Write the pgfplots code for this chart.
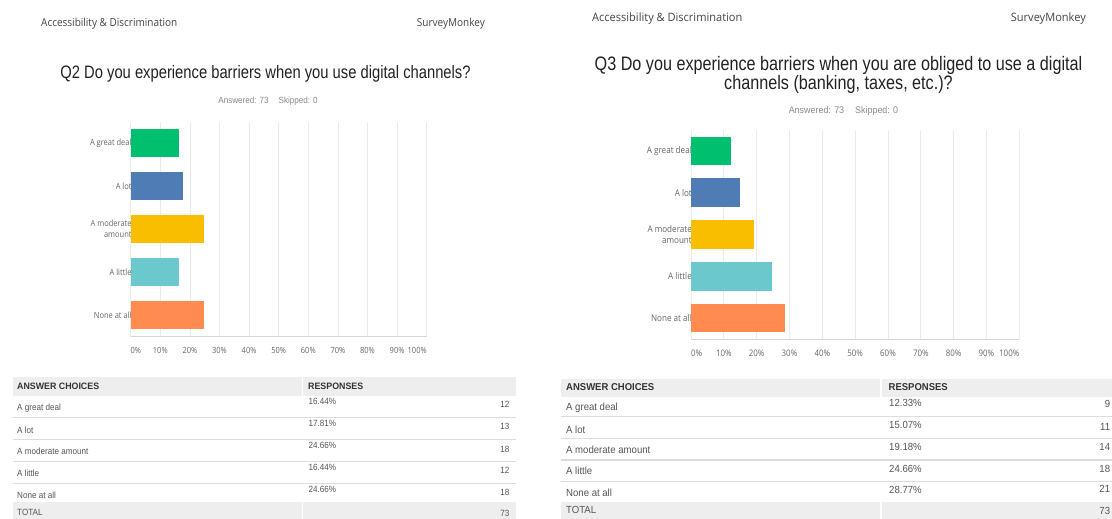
\documentclass[border=0pt]{standalone}
\usepackage{pgfplots}
\pgfplotsset{compat=1.18}
\usepackage{fontspec}
\setmainfont{Liberation Sans}
\newfontfamily\hdrfont[FakeStretch=0.91]{Open Sans}
\newfontfamily\hdrfontR[FakeStretch=0.96]{Open Sans}
\newfontfamily\ttlfont[FakeStretch=0.82]{Liberation Sans}
\newfontfamily\ttlfontR[FakeStretch=0.83]{Liberation Sans}
\newfontfamily\labfont[FakeStretch=0.88]{Open Sans}
\newfontfamily\tabfont[FakeStretch=0.9]{Liberation Sans}
\newfontfamily\tabfontR[FakeStretch=0.93]{Liberation Sans}
\newfontfamily\tabhfont[FakeStretch=0.95]{Liberation Sans}
\definecolor{smgreen}{HTML}{00BF6F}
\definecolor{smblue}{HTML}{507CB6}
\definecolor{smyellow}{HTML}{F9BE00}
\definecolor{smteal}{HTML}{6BC8CD}
\definecolor{smorange}{HTML}{FF8B4F}
\definecolor{gridc}{HTML}{EBEBEB}
\definecolor{axisc}{HTML}{D6D6D6}
\definecolor{tickc}{HTML}{666666}
\definecolor{hdrc}{HTML}{444444}
\definecolor{ttlc}{HTML}{222222}
\definecolor{ansc}{HTML}{8A8A8A}
\definecolor{hdrbg}{HTML}{EEEEEE}
\definecolor{sepc}{HTML}{DCDCDC}
\definecolor{tabc}{HTML}{555555}
\definecolor{tabh}{HTML}{333333}
\pgfplotsset{smchart/.style={
  scale only axis, xbar, xmin=0, xmax=100, ymin=-0.5, ymax=4.5,
  xtick={0,10,...,100}, ytick={0,1,2,3,4},
  xticklabel={\ifnum\ticknum=0 \rlap{\pgfmathprintnumber{\tick}\%}\else\ifnum\ticknum=10 \llap{\pgfmathprintnumber{\tick}\%}\else\pgfmathprintnumber{\tick}\%\fi\fi},
  yticklabels={None at all, A little, {A moderate\\amount}, A lot, A great deal},
  /pgf/number format/assume math mode=true,
  xmajorgrids, grid style={draw=gridc, line width=0.8pt},
  axis x line*=bottom, axis y line*=left,
  x axis line style={draw=axisc, line width=1pt, -},
  y axis line style={draw=none},
  major tick length=0pt, tick style={draw=none},
  xticklabel style={text=tickc, yshift=-7pt},
  yticklabel style={text=tickc, align=right, inner sep=0pt, xshift=1pt},
  bar width=28.5pt,
  every axis plot/.append style={draw=none, bar shift=0pt},
}}
\begin{document}
\begin{tikzpicture}
\fill[white] (0,0) rectangle (1112pt,-519pt);
\path[use as bounding box] (0,0) rectangle (1112pt,-519pt);
% headers
\node[anchor=west, font=\hdrfont\fontsize{11}{12}\selectfont, text=hdrc, inner sep=0pt] at (41pt,-24pt) {Accessibility \& Discrimination};
\node[anchor=east, font=\hdrfont\fontsize{11}{12}\selectfont, text=hdrc, inner sep=0pt] at (485pt,-24pt) {SurveyMonkey};
\node[anchor=west, font=\hdrfontR\fontsize{11.5}{12}\selectfont, text=hdrc, inner sep=0pt] at (592pt,-19pt) {Accessibility \& Discrimination};
\node[anchor=east, font=\hdrfontR\fontsize{11.5}{12}\selectfont, text=hdrc, inner sep=0pt] at (1086pt,-19pt) {SurveyMonkey};
% titles
\node[font=\ttlfont\fontsize{18}{19}\selectfont, text=ttlc, inner sep=0pt] at (265.5pt,-74pt) {Q2 Do you experience barriers when you use digital channels?};
\node[font=\ttlfontR\fontsize{19.5}{18.5}\selectfont, text=ttlc, inner sep=0pt, align=center] at (838.5pt,-75pt) {Q3 Do you experience barriers when you are obliged to use a digital\\channels (banking, taxes, etc.)?};
\node[font=\tabfont\fontsize{9}{10}\selectfont, text=ansc, inner sep=0pt] at (268pt,-101pt) {Answered: 73\hspace{10pt}Skipped: 0};
\node[font=\tabfontR\fontsize{9.6}{10}\selectfont, text=ansc, inner sep=0pt] at (843.5pt,-111pt) {Answered: 73\hspace{11pt}Skipped: 0};
% chart Q2
\begin{axis}[smchart, at={(130.7pt,-121.7pt)}, anchor=north west, width=296pt, height=215pt,
  xticklabel style={font=\labfont\fontsize{8.5}{10}\selectfont},
  yticklabel style={font=\labfont\fontsize{8.5}{11}\selectfont}]
\addplot[fill=smorange] coordinates {(24.66,0)};
\addplot[fill=smteal] coordinates {(16.44,1)};
\addplot[fill=smyellow] coordinates {(24.66,2)};
\addplot[fill=smblue] coordinates {(17.81,3)};
\addplot[fill=smgreen] coordinates {(16.44,4)};
\end{axis}
% chart Q3
\begin{axis}[smchart, at={(691pt,-130pt)}, anchor=north west, width=328.3pt, height=209pt,
  xticklabel style={font=\labfont\fontsize{9}{10}\selectfont},
  yticklabel style={font=\labfont\fontsize{9.2}{11.5}\selectfont}]
\addplot[fill=smorange] coordinates {(28.77,0)};
\addplot[fill=smteal] coordinates {(24.66,1)};
\addplot[fill=smyellow] coordinates {(19.18,2)};
\addplot[fill=smblue] coordinates {(15.07,3)};
\addplot[fill=smgreen] coordinates {(12.33,4)};
\end{axis}
% table Q2
\fill[hdrbg] (12.7pt,-377pt) rectangle (302pt,-396pt);
\fill[hdrbg] (303.3pt,-377pt) rectangle (516pt,-396pt);
\fill[hdrbg] (12.7pt,-501.5pt) rectangle (302pt,-519pt);
\fill[hdrbg] (303.3pt,-501.5pt) rectangle (516pt,-519pt);
\foreach \yy in {417.3,439.3,461.7,483.3}{\draw[sepc, line width=1.2pt] (12.7pt,-\yy pt) -- (516pt,-\yy pt);}
\begin{scope}[every node/.style={inner sep=0pt, font=\tabfont\fontsize{9}{10}\selectfont, text=tabc}]
\node[anchor=west, text=tabh, font=\tabhfont\bfseries\fontsize{9.3}{10}\selectfont] at (17pt,-386.5pt) {ANSWER CHOICES};
\node[anchor=west, text=tabh, font=\tabhfont\bfseries\fontsize{9.3}{10}\selectfont] at (308pt,-386.5pt) {RESPONSES};
\node[anchor=west] at (17pt,-408pt) {A great deal};
\node[anchor=west] at (17pt,-430pt) {A lot};
\node[anchor=west] at (17pt,-451.5pt) {A moderate amount};
\node[anchor=west] at (17pt,-473pt) {A little};
\node[anchor=west] at (17pt,-495pt) {None at all};
\node[anchor=west] at (17pt,-512pt) {TOTAL};
\node[anchor=west] at (308.5pt,-401pt) {16.44\%};
\node[anchor=west] at (308.5pt,-423pt) {17.81\%};
\node[anchor=west] at (308.5pt,-445pt) {24.66\%};
\node[anchor=west] at (308.5pt,-467pt) {16.44\%};
\node[anchor=west] at (308.5pt,-489pt) {24.66\%};
\node[anchor=east] at (509.5pt,-404.3pt) {12};
\node[anchor=east] at (509.5pt,-426.7pt) {13};
\node[anchor=east] at (509.5pt,-449pt) {18};
\node[anchor=east] at (509.5pt,-470.7pt) {12};
\node[anchor=east] at (509.5pt,-492.7pt) {18};
\node[anchor=east] at (509.5pt,-513pt) {73};
\end{scope}
% table Q3
\fill[hdrbg] (560.7pt,-379pt) rectangle (880pt,-397pt);
\fill[hdrbg] (882pt,-379pt) rectangle (1112pt,-397pt);
\fill[hdrbg] (560.7pt,-501.7pt) rectangle (880pt,-519pt);
\fill[hdrbg] (882pt,-501.7pt) rectangle (1112pt,-519pt);
\foreach \yy in {416.7,438.3,460,481.7}{\draw[sepc, line width=1.2pt] (560.7pt,-\yy pt) -- (1112pt,-\yy pt);}
\begin{scope}[every node/.style={inner sep=0pt, font=\tabfontR\fontsize{10.3}{11}\selectfont, text=tabc}]
\node[anchor=west, text=tabh, font=\tabhfont\bfseries\fontsize{10}{11}\selectfont] at (566pt,-387.3pt) {ANSWER CHOICES};
\node[anchor=west, text=tabh, font=\tabhfont\bfseries\fontsize{10}{11}\selectfont] at (888.5pt,-387.3pt) {RESPONSES};
\node[anchor=west] at (566pt,-407.7pt) {A great deal};
\node[anchor=west] at (566pt,-429.5pt) {A lot};
\node[anchor=west] at (566pt,-450pt) {A moderate amount};
\node[anchor=west] at (566pt,-471pt) {A little};
\node[anchor=west] at (566pt,-492.5pt) {None at all};
\node[anchor=west] at (566pt,-509.5pt) {TOTAL};
\node[anchor=west] at (889pt,-403.3pt) {12.33\%};
\node[anchor=west] at (889pt,-425pt) {15.07\%};
\node[anchor=west] at (889pt,-446.7pt) {19.18\%};
\node[anchor=west] at (889pt,-469pt) {24.66\%};
\node[anchor=west] at (889pt,-490pt) {28.77\%};
\node[anchor=east] at (1110.3pt,-404.3pt) {9};
\node[anchor=east] at (1110.3pt,-426.7pt) {11};
\node[anchor=east] at (1110.3pt,-447.3pt) {14};
\node[anchor=east] at (1110.3pt,-469.3pt) {18};
\node[anchor=east] at (1110.3pt,-489.3pt) {21};
\node[anchor=east] at (1110.3pt,-510.7pt) {73};
\end{scope}
\end{tikzpicture}
\end{document}
